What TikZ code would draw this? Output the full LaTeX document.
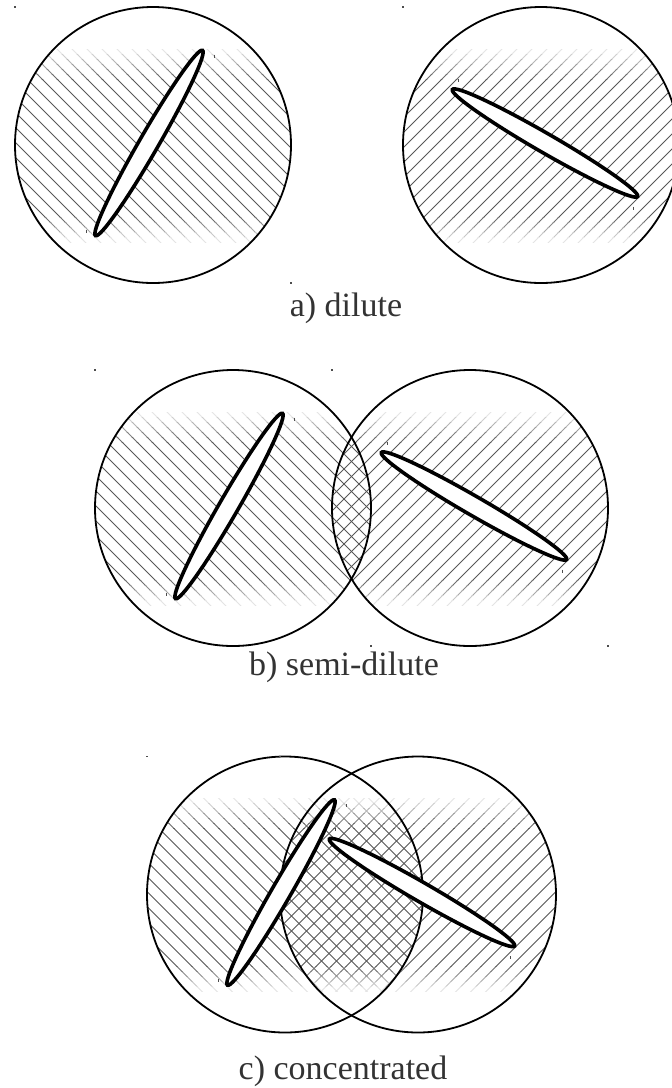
\documentclass[tikz,border=0pt]{standalone}
\usepackage{fontspec}
\setmainfont{Liberation Serif}
\tikzset{
  circline/.style={line width=1.8, draw=black},
  rod/.style={line width=3.6, draw=black, fill=white},
  labeltext/.style={anchor=base, text=black!80, font=\fontsize{34}{40}\selectfont, inner sep=0},
  tinymark/.style={line width=0.9, draw=black!70},
}
% #1 cx, #2 cy, #3 sign (1 = "\" lines, -1 = "/" lines)
\newcommand\hatchcirc[3]{%
  \begin{scope}
    \clip (#1,#2) circle (138);
    \foreach \ya/\yb/\c in {-96/-91/10, -91/-86/19, -86/-81/29, -81/-76/39, -76/-71/49, -71/-66/58,
                            -66/72/66, 72/77/57, 77/82/46, 82/87/34, 87/92/22, 92/97/11} {
      \begin{scope}
        \clip ({#1-140},{#2+\ya}) rectangle ({#1+140},{#2+\yb});
        \foreach \k in {-21,...,21} {
          \draw[black!\c, line width=0.9]
            ({#1+\k*15-150},{#2-(#3)*150}) -- ({#1+\k*15+150},{#2+(#3)*150});
        }
      \end{scope}
    }
  \end{scope}
}
\begin{document}
\begin{tikzpicture}[x=1pt,y=-1pt]
\useasboundingbox (0,0) rectangle (672,1088);
\fill[white] (0,0) rectangle (672,1088);

% ---------- panel a ----------
\hatchcirc{153}{145}{1}
\hatchcirc{541}{145}{-1}
\draw[circline] (153,145) circle (138);
\draw[circline] (541,145) circle (138);
\draw[rod] (149,143) ellipse [x radius=107, y radius=9.5, rotate=60];
\draw[rod] (545,143) ellipse [x radius=107, y radius=9.5, rotate=-30];
\node[labeltext] (la) at (346,316) {a) dilute};

% ---------- panel b ----------
\hatchcirc{233}{508}{1}
\hatchcirc{470}{508}{-1}
\draw[circline] (233,508) circle (138);
\draw[circline] (470,508) circle (138);
\draw[rod] (229,506) ellipse [x radius=107, y radius=9.5, rotate=60];
\draw[rod] (474,506) ellipse [x radius=107, y radius=9.5, rotate=-30];
\node[labeltext] (lb) at (344,675) {b) semi-dilute};

% ---------- panel c ----------
\hatchcirc{285}{894.5}{1}
\hatchcirc{418}{894.5}{-1}
\draw[circline] (285,894.5) circle (138);
\draw[circline] (418,894.5) circle (138);
\draw[rod] (422,892.5) ellipse [x radius=107, y radius=9.5, rotate=-30];
\draw[rod] (281,892.5) ellipse [x radius=107, y radius=9.5, rotate=60];
\node[labeltext] (lc) at (343,1079) {c) concentrated};

% ---------- tiny marks (bounding-box corners) ----------
\foreach \x/\y in {15/7, 291/283, 403/7, 95/370, 332/370, 371/646, 608/646, 147/756.5, 280/756.5} {
  \fill[black!70] (\x-0.6,\y-0.6) rectangle (\x+0.6,\y+0.6);
}
\foreach \x/\y in {149/143, 229/506, 281/892.5} {
  \draw[tinymark] (\x+65.5,\y-88.5) -- (\x+65.5,\y-85.5);
  \draw[tinymark] (\x-62.5,\y+86.5) -- (\x-62.5,\y+89.5);
}
\foreach \x/\y in {545/143, 474/506, 422/892.5} {
  \draw[tinymark] (\x-87,\y-64.5) -- (\x-87,\y-61.5);
  \draw[tinymark] (\x+88,\y+63.5) -- (\x+88,\y+66.5);
}
\end{tikzpicture}
\end{document}
